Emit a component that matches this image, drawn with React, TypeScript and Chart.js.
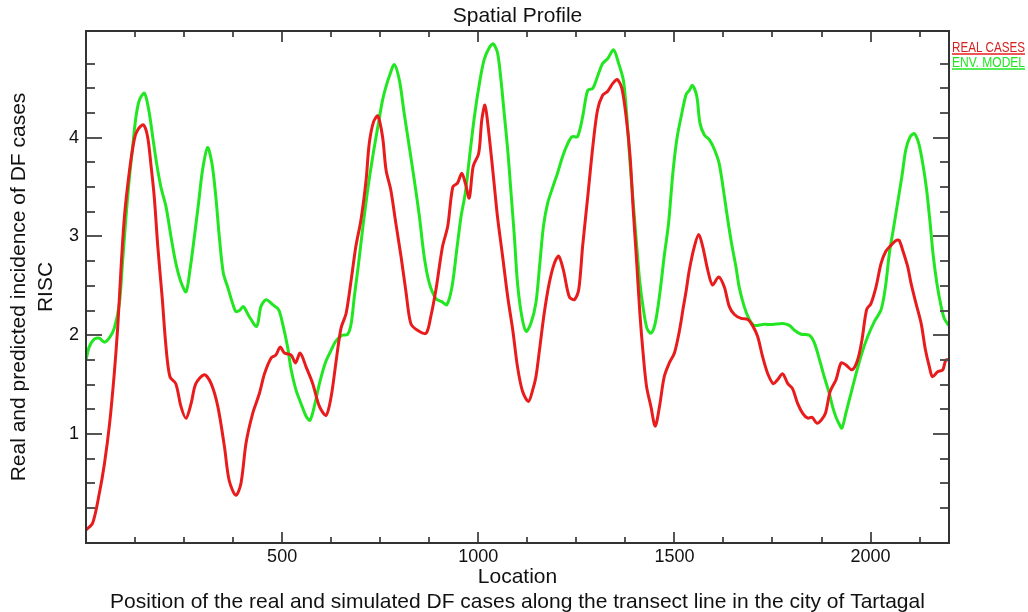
import React, { useEffect, useRef } from "react";
import { Chart, registerables } from "chart.js";

Chart.register(...registerables);

const realLocations = [0, 17, 34, 47, 60, 72, 81, 89, 98, 110, 123, 132, 146, 157, 166, 174, 183, 194, 204, 214, 229, 242, 255, 268, 280, 302, 319, 336, 353, 365, 382, 395, 408, 425, 442, 455, 472, 484, 495, 506, 523, 534, 546, 561, 578, 595, 612, 625, 637, 650, 663, 676, 688, 701, 714, 722, 733, 744, 756, 765, 777, 790, 803, 816, 828, 845, 867, 879, 892, 909, 922, 935, 947, 958, 967, 977, 987, 1001, 1009, 1017, 1024, 1037, 1049, 1062, 1075, 1088, 1100, 1113, 1128, 1139, 1147, 1156, 1168, 1181, 1194, 1205, 1217, 1232, 1245, 1256, 1266, 1279, 1292, 1304, 1317, 1330, 1343, 1354, 1366, 1377, 1387, 1395, 1404, 1412, 1421, 1429, 1440, 1451, 1462, 1474, 1487, 1500, 1513, 1523, 1530, 1538, 1551, 1562, 1572, 1585, 1597, 1613, 1627, 1640, 1653, 1670, 1687, 1699, 1712, 1725, 1738, 1752, 1763, 1776, 1789, 1801, 1814, 1827, 1840, 1851, 1863, 1874, 1885, 1897, 1912, 1925, 1937, 1953, 1967, 1978, 1990, 2001, 2014, 2027, 2039, 2052, 2065, 2073, 2082, 2095, 2103, 2116, 2129, 2140, 2150, 2158, 2171, 2184, 2192, 2200];
const realValues = [0.03, 0.1, 0.4, 0.7, 1.1, 1.61, 2.09, 2.66, 3.2, 3.64, 3.98, 4.08, 4.13, 4.01, 3.71, 3.4, 2.9, 2.39, 1.88, 1.58, 1.51, 1.28, 1.16, 1.31, 1.51, 1.6, 1.51, 1.28, 0.87, 0.53, 0.38, 0.5, 0.91, 1.21, 1.41, 1.61, 1.77, 1.8, 1.88, 1.82, 1.8, 1.72, 1.82, 1.68, 1.51, 1.28, 1.19, 1.38, 1.72, 2.07, 2.22, 2.56, 2.9, 3.17, 3.57, 3.94, 4.16, 4.22, 4.01, 3.67, 3.47, 3.13, 2.8, 2.43, 2.12, 2.05, 2.02, 2.19, 2.46, 2.9, 3.1, 3.5, 3.54, 3.64, 3.54, 3.39, 3.71, 3.84, 4.18, 4.33, 4.15, 3.67, 3.2, 2.8, 2.39, 2.05, 1.68, 1.43, 1.33, 1.45, 1.58, 1.85, 2.22, 2.53, 2.73, 2.8, 2.66, 2.39, 2.36, 2.46, 2.9, 3.4, 3.91, 4.28, 4.43, 4.47, 4.55, 4.59, 4.5, 4.21, 3.81, 3.27, 2.73, 2.22, 1.78, 1.48, 1.28, 1.08, 1.28, 1.58, 1.72, 1.82, 2.05, 2.29, 2.45, 2.66, 2.9, 3.02, 2.9, 2.66, 2.51, 2.59, 2.49, 2.29, 2.21, 2.17, 2.16, 2.1, 1.99, 1.78, 1.61, 1.51, 1.55, 1.61, 1.51, 1.46, 1.31, 1.21, 1.16, 1.17, 1.11, 1.14, 1.21, 1.43, 1.55, 1.72, 1.7, 1.65, 1.75, 1.95, 2.26, 2.32, 2.49, 2.73, 2.85, 2.91, 2.96, 2.96, 2.86, 2.69, 2.53, 2.32, 2.12, 1.85, 1.68, 1.58, 1.63, 1.65, 1.75, 1.75];

const modelLocations = [0, 8, 21, 34, 47, 59, 72, 85, 93, 102, 110, 119, 127, 136, 149, 160, 170, 180, 191, 204, 217, 229, 242, 255, 265, 276, 287, 297, 310, 321, 331, 340, 350, 361, 374, 382, 391, 401, 416, 435, 446, 459, 476, 491, 501, 514, 523, 535, 548, 561, 571, 582, 595, 610, 625, 637, 653, 667, 676, 684, 695, 705, 718, 731, 744, 756, 765, 773, 786, 799, 811, 824, 837, 850, 862, 875, 892, 907, 920, 933, 945, 956, 967, 977, 990, 1003, 1015, 1028, 1038, 1049, 1058, 1066, 1075, 1083, 1092, 1100, 1111, 1122, 1134, 1147, 1157, 1166, 1177, 1190, 1202, 1215, 1228, 1239, 1253, 1266, 1279, 1292, 1304, 1317, 1330, 1345, 1358, 1370, 1378, 1387, 1395, 1404, 1412, 1421, 1430, 1440, 1451, 1463, 1474, 1485, 1496, 1506, 1517, 1530, 1538, 1546, 1557, 1565, 1576, 1589, 1602, 1614, 1625, 1636, 1647, 1657, 1665, 1678, 1691, 1704, 1725, 1750, 1776, 1793, 1806, 1823, 1844, 1857, 1870, 1882, 1895, 1903, 1912, 1919, 1927, 1937, 1950, 1963, 1978, 1993, 2010, 2027, 2038, 2048, 2058, 2069, 2080, 2090, 2101, 2112, 2123, 2133, 2143, 2152, 2160, 2169, 2180, 2188, 2199];
const modelValues = [1.75, 1.88, 1.96, 1.97, 1.93, 1.97, 2.07, 2.32, 2.73, 3.2, 3.57, 3.91, 4.2, 4.38, 4.45, 4.28, 4.01, 3.74, 3.5, 3.3, 2.99, 2.73, 2.54, 2.44, 2.66, 2.99, 3.34, 3.67, 3.9, 3.74, 3.4, 2.99, 2.63, 2.49, 2.32, 2.24, 2.25, 2.29, 2.19, 2.09, 2.29, 2.36, 2.31, 2.26, 2.12, 1.88, 1.65, 1.45, 1.31, 1.18, 1.14, 1.28, 1.51, 1.72, 1.85, 1.94, 2.0, 2.01, 2.12, 2.39, 2.73, 3.07, 3.47, 3.81, 4.11, 4.38, 4.52, 4.62, 4.74, 4.58, 4.25, 3.91, 3.57, 3.2, 2.8, 2.53, 2.37, 2.34, 2.31, 2.49, 2.86, 3.2, 3.44, 3.78, 4.21, 4.55, 4.79, 4.91, 4.95, 4.86, 4.58, 4.25, 3.88, 3.47, 3.0, 2.53, 2.19, 2.04, 2.12, 2.33, 2.73, 3.1, 3.34, 3.5, 3.64, 3.81, 3.94, 4.01, 4.01, 4.21, 4.48, 4.5, 4.62, 4.75, 4.8, 4.89, 4.75, 4.58, 4.25, 3.74, 3.34, 2.9, 2.53, 2.26, 2.07, 2.02, 2.12, 2.43, 2.8, 3.13, 3.64, 3.98, 4.21, 4.44, 4.48, 4.53, 4.42, 4.15, 4.03, 3.98, 3.88, 3.74, 3.47, 3.17, 2.9, 2.69, 2.49, 2.29, 2.16, 2.1, 2.11, 2.11, 2.12, 2.1, 2.05, 2.01, 2.0, 1.92, 1.75, 1.58, 1.41, 1.28, 1.17, 1.11, 1.06, 1.21, 1.41, 1.61, 1.82, 1.99, 2.14, 2.26, 2.49, 2.83, 3.07, 3.34, 3.61, 3.88, 4.01, 4.04, 3.94, 3.74, 3.47, 3.13, 2.8, 2.53, 2.29, 2.17, 2.1];

const xTickValues = [125, 250, 375, 500, 625, 750, 875, 1000, 1125, 1250, 1375, 1500, 1625, 1750, 1875, 2000, 2125];
const xLabeledTicks = [500, 1000, 1500, 2000];
const yTickValues = [0.25, 0.5, 0.75, 1, 1.25, 1.5, 1.75, 2, 2.25, 2.5, 2.75, 3, 3.25, 3.5, 3.75, 4, 4.25, 4.5, 4.75];
const yLabeledTicks = [1, 2, 3, 4];

const seriesNames = ["REAL CASES", "ENV. MODEL"];
const RED = "#e81c1c";
const GREEN = "#22e622";
const FONT = "'Liberation Sans', Arial, sans-serif";

const frameAndLegend = {
  id: "frameAndLegend",
  afterDraw(chart: any) {
    const { ctx, chartArea, scales } = chart;
    const { left, right, top, bottom } = chartArea;
    ctx.save();
    ctx.lineCap = "butt";
    ctx.strokeStyle = "#555";
    ctx.lineWidth = 2;
    const line = (x1: number, y1: number, x2: number, y2: number) => {
      ctx.beginPath();
      ctx.moveTo(x1, y1);
      ctx.lineTo(x2, y2);
      ctx.stroke();
    };
    scales.x.ticks.forEach((t: any) => {
      const px = Math.round(scales.x.getPixelForValue(t.value));
      const len = xLabeledTicks.includes(t.value) ? 11 : 6;
      line(px, bottom, px, bottom - len);
      line(px, top, px, top + len);
    });
    scales.y.ticks.forEach((t: any) => {
      const py = Math.round(scales.y.getPixelForValue(t.value));
      const len = yLabeledTicks.includes(t.value) ? 16 : 9;
      line(left, py, left + len, py);
      line(right, py, right - len, py);
    });
    ctx.strokeStyle = "#333";
    ctx.lineWidth = 2;
    ctx.strokeRect(left, top, right - left, bottom - top);

    // legend
    const colors = [RED, GREEN];
    ctx.font = `15px ${FONT}`;
    ctx.textAlign = "left";
    ctx.textBaseline = "alphabetic";
    seriesNames.forEach((name, i) => {
      const y = 52 + i * 15;
      ctx.fillStyle = i === 0 ? "#d42020" : colors[i];
      ctx.fillText(name, right + 3, y, 73);
      ctx.strokeStyle = colors[i];
      ctx.lineWidth = 1.5;
      line(right + 3, y + 2, right + 76, y + 2);
    });
    ctx.restore();
  },
};

export default function App() {
  const canvasRef = useRef<HTMLCanvasElement | null>(null);

  useEffect(() => {
    if (!canvasRef.current) return;
    const chart = new Chart(canvasRef.current, {
      type: "line",
      data: {
        datasets: [
          {
            label: seriesNames[0],
            data: realLocations.map((x, i) => ({ x, y: realValues[i] })),
            borderColor: RED,
            borderWidth: 3,
            pointRadius: 0,
            tension: 0.3,
            fill: false,
          },
          {
            label: seriesNames[1],
            data: modelLocations.map((x, i) => ({ x, y: modelValues[i] })),
            borderColor: GREEN,
            borderWidth: 3,
            pointRadius: 0,
            tension: 0.3,
            fill: false,
          },
        ],
      },
      options: {
        animation: false,
        responsive: false,
        devicePixelRatio: 1,
        layout: { padding: { top: 0, right: 79, bottom: 0, left: 0 } },
        plugins: {
          legend: { display: false },
          tooltip: { enabled: false },
          title: {
            display: true,
            text: "Spatial Profile",
            fullSize: false,
            color: "#111",
            font: { family: FONT, size: 21, weight: "normal", lineHeight: 1.2 },
            padding: { top: 4, bottom: 1.8 },
          },
        },
        scales: {
          x: {
            type: "linear",
            min: 0,
            max: 2200,
            afterBuildTicks: (scale: any) => {
              scale.ticks = xTickValues.map((v) => ({ value: v }));
            },
            afterFit: (scale: any) => {
              scale.height = 69;
            },
            grid: { display: false, drawTicks: false },
            border: { display: false },
            ticks: {
              autoSkip: false,
              maxRotation: 0,
              padding: 3,
              color: "#111",
              font: { family: FONT, size: 18 },
              callback: (v: any) => (xLabeledTicks.includes(v) ? String(v) : ""),
            },
            title: {
              display: true,
              text: ["Location", "Position of the real and simulated DF cases along the transect line in the city of Tartagal"],
              color: "#111",
              font: { family: FONT, size: 21, lineHeight: 1.19 },
              padding: { top: 0, bottom: -3 },
            },
          },
          y: {
            type: "linear",
            min: -0.103,
            max: 5.08,
            afterBuildTicks: (scale: any) => {
              scale.ticks = yTickValues.map((v) => ({ value: v }));
            },
            afterFit: (scale: any) => {
              scale.width = 86;
            },
            grid: { display: false, drawTicks: false },
            border: { display: false },
            ticks: {
              autoSkip: false,
              padding: 7,
              color: "#111",
              font: { family: FONT, size: 18 },
              callback: (v: any) => (yLabeledTicks.includes(v) ? String(v) : ""),
            },
            title: {
              display: true,
              text: ["Real and predicted incidence of DF cases", "RISC"],
              color: "#111",
              font: { family: FONT, size: 21, lineHeight: 1.29 },
              padding: { top: 5.5, bottom: 0 },
            },
          },
        },
      },
      plugins: [frameAndLegend],
    } as any);
    return () => chart.destroy();
  }, []);

  return (
    <div style={{ position: "absolute", left: 0, top: 0, width: 1028, height: 612, background: "#fff" }}>
      <canvas ref={canvasRef} width={1028} height={612} style={{ display: "block" }} />
    </div>
  );
}
